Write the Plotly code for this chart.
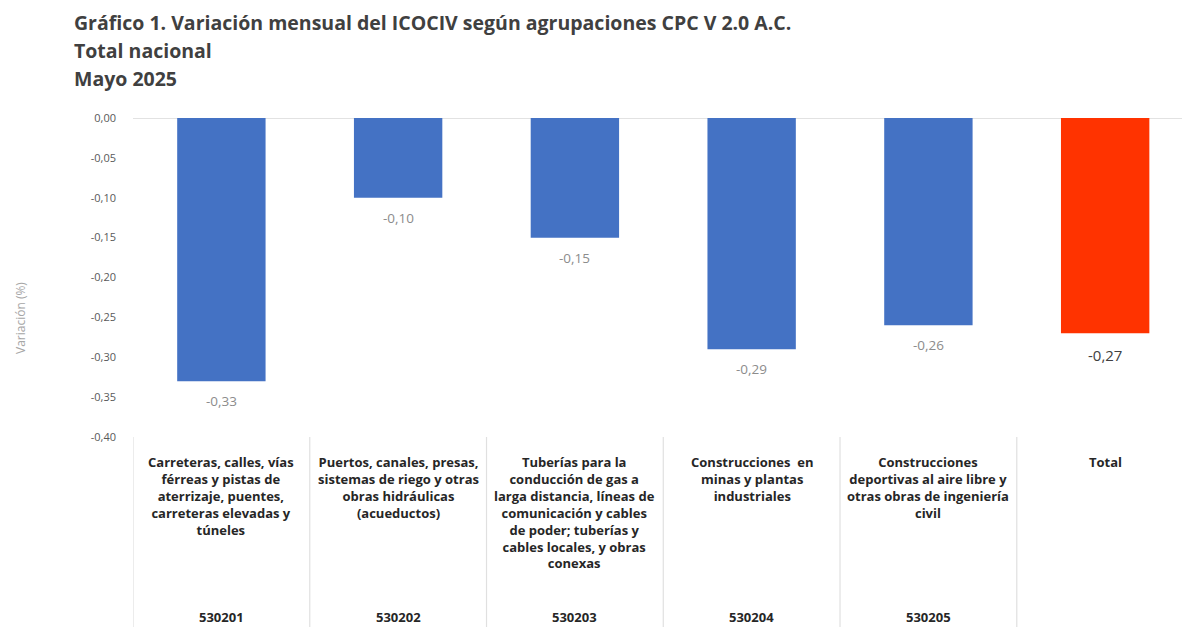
import plotly.graph_objects as go

codes = ["530201", "530202", "530203", "530204", "530205", ""]
descriptions = [
    "Carreteras, calles, vías<br>férreas y pistas de<br>aterrizaje, puentes,<br>carreteras elevadas y<br>túneles",
    "Puertos, canales, presas,<br>sistemas de riego y otras<br>obras hidráulicas<br>(acueductos)",
    "Tuberías para la<br>conducción de gas a<br>larga distancia, líneas de<br>comunicación y cables<br>de poder; tuberías y<br>cables locales, y obras<br>conexas",
    "Construcciones  en<br>minas y plantas<br>industriales",
    "Construcciones<br>deportivas al aire libre y<br>otras obras de ingeniería<br>civil",
    "Total",
]
values = [-0.33, -0.10, -0.15, -0.29, -0.26, -0.27]
colors = ["#4472C4", "#4472C4", "#4472C4", "#4472C4", "#4472C4", "#FF3300"]
ytick_vals = [0.0, -0.05, -0.10, -0.15, -0.20, -0.25, -0.30, -0.35, -0.40]
ytick_text = ["0,00", "-0,05", "-0,10", "-0,15", "-0,20", "-0,25", "-0,30", "-0,35", "-0,40"]

x = list(range(len(values)))
labels = [f"{v:.2f}".replace(".", ",") for v in values]

fig = go.Figure()
fig.add_trace(go.Bar(
    x=x, y=values, marker=dict(color=colors, line=dict(width=0)), width=0.5,
    hoverinfo="skip",
))

# data labels below each bar end
for i, (v, lab) in enumerate(zip(values, labels)):
    is_total = i == len(values) - 1
    fig.add_annotation(x=i, y=v, xref="x", yref="y", text=lab, showarrow=False,
                       yanchor="middle", yshift=-22 if is_total else -20,
                       font=dict(family="Open Sans", size=15 if is_total else 13.5,
                                 color="#404040" if is_total else "#8c8c8c"))

fig.add_shape(type="line", xref="paper", yref="y", x0=0, x1=1, y0=0, y1=0,
              line=dict(color="#d9d9d9", width=1.5), layer="below")

for i in range(len(values) + 1):
    fig.add_shape(type="line", xref="x", yref="paper", x0=i - 0.5, x1=i - 0.5,
                  y0=0, y1=-0.62, line=dict(color="#e0e0e0", width=1.2))

for i, (d, c) in enumerate(zip(descriptions, codes)):
    fig.add_annotation(x=i, xref="x", y=-0.045, yref="paper", yanchor="top",
                       text=f"<b>{d}</b>", showarrow=False, align="center",
                       font=dict(family="Open Sans", size=13, color="#262626"))
    if c:
        fig.add_annotation(x=i, xref="x", y=-0.565, yref="paper", yanchor="middle",
                           text=f"<b>{c}</b>", showarrow=False,
                           font=dict(family="Open Sans", size=13, color="#262626"))

title_lines = ["Gráfico 1. Variación mensual del ICOCIV según agrupaciones CPC V 2.0 A.C.",
               "Total nacional", "Mayo 2025"]
for k, t in enumerate(title_lines):
    fig.add_annotation(xref="paper", yref="paper", x=-61 / 1057, y=1 + (96 - 28 * k) / 319,
                       xanchor="left", yanchor="middle", text=f"<b>{t}</b>", showarrow=False,
                       font=dict(family="Open Sans", size=19.5, color="#404040"))

fig.add_annotation(xref="paper", yref="paper", x=-113 / 1057, y=0.373, textangle=-90,
                   text="Variación (%)", showarrow=False, xanchor="center", yanchor="middle",
                   font=dict(family="Open Sans", size=12, color="#a6a6a6"))

fig.update_layout(
    width=1182, height=619,
    margin=dict(l=125, r=0, t=110, b=190),
    plot_bgcolor="white", paper_bgcolor="white",
    showlegend=False,
    xaxis=dict(range=[-0.5, 5.48], showticklabels=False, showgrid=False, zeroline=False,
               showline=False, fixedrange=True),
    yaxis=dict(range=[-0.40, 0.0], tickvals=ytick_vals, ticktext=ytick_text,
               showgrid=False, zeroline=False, showline=False, ticks="",
               tickfont=dict(family="Open Sans", size=11, color="#595959"), ticklabelstandoff=16),
)

fig.write_html("out.html")
